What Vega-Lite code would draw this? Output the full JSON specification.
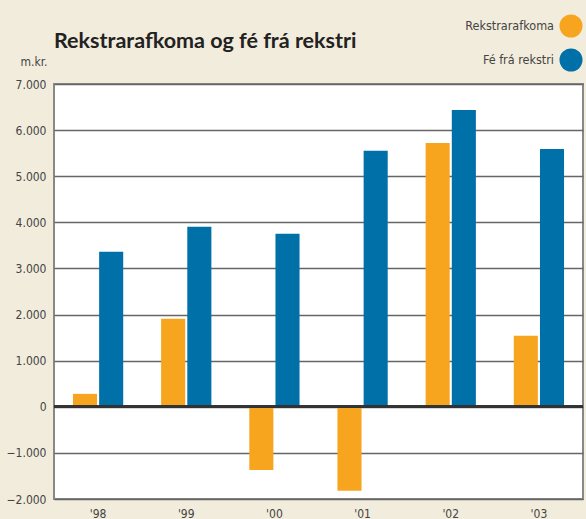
{
  "$schema": "https://vega.github.io/schema/vega-lite/v6.json",
  "width": 529,
  "height": 415,
  "autosize": {"type": "none"},
  "padding": {"left": 54, "top": 84, "right": 3, "bottom": 20},
  "background": "#F2ECDC",
  "title": {
    "text": "Rekstrarafkoma og fé frá rekstri",
    "anchor": "start",
    "frame": "group",
    "font": "Lato",
    "fontSize": 21.5,
    "fontWeight": "bold",
    "color": "#222222",
    "offset": -38
  },
  "config": {
    "view": {"fill": "#FFFFFF", "stroke": "#888888", "strokeWidth": 2},
    "legend": {"padding": 0}
  },
  "data": {
    "values": [
      {"ar": "'98", "flokkur": "Rekstrarafkoma", "gildi": 280},
      {"ar": "'98", "flokkur": "Fé frá rekstri", "gildi": 3360},
      {"ar": "'99", "flokkur": "Rekstrarafkoma", "gildi": 1910},
      {"ar": "'99", "flokkur": "Fé frá rekstri", "gildi": 3905},
      {"ar": "'00", "flokkur": "Rekstrarafkoma", "gildi": -1370},
      {"ar": "'00", "flokkur": "Fé frá rekstri", "gildi": 3750},
      {"ar": "'01", "flokkur": "Rekstrarafkoma", "gildi": -1820},
      {"ar": "'01", "flokkur": "Fé frá rekstri", "gildi": 5550},
      {"ar": "'02", "flokkur": "Rekstrarafkoma", "gildi": 5720},
      {"ar": "'02", "flokkur": "Fé frá rekstri", "gildi": 6435},
      {"ar": "'03", "flokkur": "Rekstrarafkoma", "gildi": 1540},
      {"ar": "'03", "flokkur": "Fé frá rekstri", "gildi": 5590}
    ]
  },
  "layer": [
    {
      "mark": {"type": "bar"},
      "encoding": {
        "x": {
          "field": "ar",
          "type": "nominal",
          "sort": null,
          "scale": {"paddingInner": 0.43, "paddingOuter": 0.215},
          "axis": {
            "title": null,
            "labelAngle": 0,
            "ticks": false,
            "domain": false,
            "labelPadding": 9,
            "labelFont": "DejaVu Sans Condensed",
            "labelFontSize": 12,
            "labelColor": "#444444"
          }
        },
        "xOffset": {
          "field": "flokkur",
          "type": "nominal",
          "sort": ["Rekstrarafkoma", "Fé frá rekstri"],
          "scale": {"paddingInner": 0.08, "paddingOuter": 0}
        },
        "y": {
          "field": "gildi",
          "type": "quantitative",
          "scale": {"domain": [-2000, 7000], "nice": false},
          "axis": {
            "values": [-2000, -1000, 0, 1000, 2000, 3000, 4000, 5000, 6000, 7000],
            "labelExpr": "replace(format(datum.value, ','), ',', '.')",
            "title": "m.kr.",
            "titleAngle": 0,
            "titleAlign": "right",
            "titleBaseline": "bottom",
            "titleX": -7,
            "titleY": -16,
            "titleFont": "DejaVu Sans Condensed",
            "titleFontSize": 12,
            "titleFontWeight": "normal",
            "titleColor": "#444444",
            "ticks": false,
            "domain": false,
            "labelPadding": 8,
            "labelFont": "DejaVu Sans Condensed",
            "labelFontSize": 12,
            "labelColor": "#444444",
            "gridColor": "#666666",
            "gridWidth": 1.5
          }
        },
        "color": {
          "field": "flokkur",
          "type": "nominal",
          "sort": ["Rekstrarafkoma", "Fé frá rekstri"],
          "scale": {"domain": ["Rekstrarafkoma", "Fé frá rekstri"], "range": ["#F7A51F", "#0070A8"]},
          "legend": {
            "title": null,
            "orient": "none",
            "legendX": 505,
            "legendY": -70,
            "symbolType": "circle",
            "symbolSize": 530,
            "symbolStrokeWidth": 0,
            "symbolOpacity": 1,
            "rowPadding": 10,
            "labelAlign": "right",
            "labelOffset": -29,
            "labelFont": "DejaVu Sans Condensed",
            "labelFontSize": 12.5,
            "labelColor": "#444444"
          }
        }
      }
    },
    {
      "mark": {"type": "rule", "color": "#333333", "strokeWidth": 2},
      "encoding": {"y": {"datum": 0, "type": "quantitative"}}
    }
  ]
}
